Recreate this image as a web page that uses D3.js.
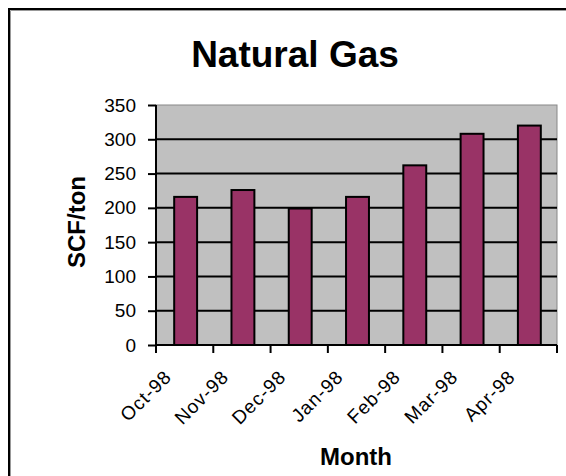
<!DOCTYPE html>
<html>
<head>
<meta charset="utf-8">
<script src="https://cdn.jsdelivr.net/npm/d3@7"></script>
<style>
  body { margin: 0; background: #fff; }
  text { font-family: "Liberation Sans", Arial, sans-serif; }
</style>
</head>
<body>
<div id="chart"></div>
<script>
var months = ['Oct-98', 'Nov-98', 'Dec-98', 'Jan-98', 'Feb-98', 'Mar-98', 'Apr-98'];
var scfPerTon = [216, 226, 199, 216, 262, 308, 320];
var yTicks = [0, 50, 100, 150, 200, 250, 300, 350];

var width = 566, height = 476;
var plotL = 156, plotR = 557, plotT = 105, plotB = 345;

var svg = d3.select('#chart').append('svg')
    .attr('width', width)
    .attr('height', height);

// outer frame
svg.append('rect').attr('x', 9).attr('y', 9).attr('width', 600).attr('height', 500)
    .attr('fill', '#fff').attr('stroke', '#000').attr('stroke-width', 2);
svg.append('path').attr('d', 'M10.5,600V10.5H600')
    .attr('fill', 'none').attr('stroke', '#999').attr('stroke-width', 1);

var x = d3.scaleBand().domain(months).range([plotL, plotR]);
var y = d3.scaleLinear().domain([0, 350]).range([plotB, plotT]);

// plot area
svg.append('rect').attr('x', plotL).attr('y', plotT)
    .attr('width', plotR - plotL).attr('height', plotB - plotT)
    .attr('fill', '#c0c0c0').attr('stroke', '#888').attr('stroke-width', 1);

// gridlines
svg.append('g').selectAll('line').data(yTicks.slice(1, -1)).enter().append('line')
    .attr('x1', plotL).attr('x2', plotR)
    .attr('y1', d => y(d)).attr('y2', d => y(d))
    .attr('stroke', '#000').attr('stroke-width', 2);

// bars
var bw = x.bandwidth() * 0.4;
svg.append('g').selectAll('rect').data(scfPerTon).enter().append('rect')
    .attr('x', (d, i) => x(months[i]) + x.bandwidth() / 2 - bw / 2 + 1)
    .attr('y', d => y(d))
    .attr('width', bw)
    .attr('height', d => plotB - y(d))
    .attr('fill', '#993366')
    .attr('stroke', '#000')
    .attr('stroke-width', 2);

// y axis
var yAxis = svg.append('g').attr('transform', `translate(${plotL},0)`)
    .call(d3.axisLeft(y).tickValues(yTicks).tickSize(8).tickPadding(12));
yAxis.select('.domain').attr('stroke', '#000').attr('stroke-width', 2).attr('d', `M0,${plotT}V${plotB}`);
yAxis.selectAll('.tick line').attr('stroke', '#000').attr('stroke-width', 2);
yAxis.selectAll('.tick text').attr('font-size', 19).attr('fill', '#000')
    .attr('font-family', '"Liberation Sans", Arial, sans-serif');

// x axis
var xAxis = svg.append('g').attr('transform', `translate(0,${plotB})`)
    .call(d3.axisBottom(x).tickSize(0).tickPadding(0));
xAxis.select('.domain').attr('stroke', '#000').attr('stroke-width', 2).attr('d', `M${plotL},0H${plotR}`);
xAxis.selectAll('.tick text')
    .attr('font-size', 19)
    .attr('font-family', '"Liberation Sans", Arial, sans-serif')
    .attr('letter-spacing', 1)
    .attr('fill', '#000')
    .attr('text-anchor', 'end')
    .attr('dy', 0)
    .attr('transform', 'translate(-12,33) rotate(-45)');

// boundary ticks
svg.append('g').selectAll('line').data(d3.range(months.length + 1)).enter().append('line')
    .attr('x1', i => plotL + i * x.step()).attr('x2', i => plotL + i * x.step())
    .attr('y1', plotB).attr('y2', plotB + 8)
    .attr('stroke', '#000').attr('stroke-width', 2);

// titles
svg.append('text').attr('x', 295).attr('y', 67)
    .attr('text-anchor', 'middle').attr('font-size', 37).attr('font-weight', 'bold')
    .text('Natural Gas');

svg.append('text').attr('transform', 'translate(85,222) rotate(-90)')
    .attr('text-anchor', 'middle').attr('font-size', 24).attr('font-weight', 'bold')
    .text('SCF/ton');

svg.append('text').attr('x', 356).attr('y', 465)
    .attr('text-anchor', 'middle').attr('font-size', 24).attr('font-weight', 'bold')
    .text('Month');
</script>
</body>
</html>
